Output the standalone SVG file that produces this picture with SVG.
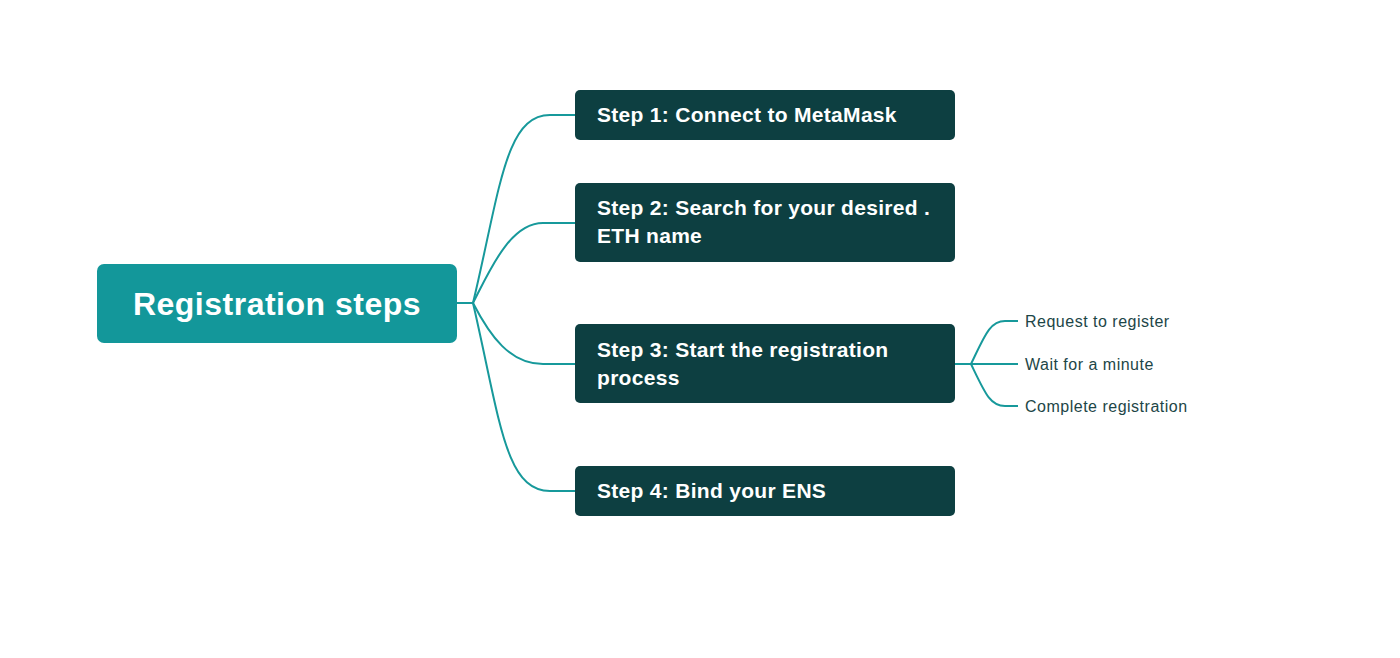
<svg xmlns="http://www.w3.org/2000/svg" width="1400" height="658" viewBox="0 0 1400 658">
<style>
.conn{fill:none;stroke:#17999B;stroke-width:2}
.root{fill:#13979A}
.step{fill:#0D3F41}
.rt{font-family:"Liberation Sans",Arial,sans-serif;font-weight:bold;font-size:32px;fill:#fff;letter-spacing:0.5px}
.st{font-family:"Liberation Sans",Arial,sans-serif;font-weight:bold;font-size:21px;fill:#fff;letter-spacing:0.3px}
.sub{font-family:"Liberation Sans",Arial,sans-serif;font-size:16px;fill:#1D4647;letter-spacing:0.5px}
</style>
<rect width="1400" height="658" fill="#fff"/>
<g id="connectors">
<path class="conn" d="M457,303 H473"/>
<path class="conn" d="M473,303 C500,190 505,115 550,115 H575"/>
<path class="conn" d="M473,303 C490,270 510,223 543,223 H575"/>
<path class="conn" d="M473,303 C490,336 510,364 543,364 H575"/>
<path class="conn" d="M473,303 C500,420 505,491 550,491 H575"/>
<path class="conn" d="M955,364 H1018"/>
<path class="conn" d="M971,364 C985,335 990,321 1005,321 H1018"/>
<path class="conn" d="M971,364 C985,393 990,406 1005,406 H1018"/>
</g>
<g id="root">
<rect class="root" x="97" y="264" width="360" height="79" rx="7"/>
<text class="rt" x="277" y="315" text-anchor="middle">Registration steps</text>
</g>
<g id="step1">
<rect class="step" x="575" y="90" width="380" height="50" rx="5"/>
<text class="st" x="597" y="122">Step 1: Connect to MetaMask</text>
</g>
<g id="step2">
<rect class="step" x="575" y="183" width="380" height="79" rx="5"/>
<text class="st" x="597" y="215">Step 2: Search for your desired .</text>
<text class="st" x="597" y="243">ETH name</text>
</g>
<g id="step3">
<rect class="step" x="575" y="324" width="380" height="79" rx="5"/>
<text class="st" x="597" y="357">Step 3: Start the registration</text>
<text class="st" x="597" y="385">process</text>
</g>
<g id="step4">
<rect class="step" x="575" y="466" width="380" height="50" rx="5"/>
<text class="st" x="597" y="498">Step 4: Bind your ENS</text>
</g>
<g id="sub1"><text class="sub" x="1025" y="327">Request to register</text></g>
<g id="sub2"><text class="sub" x="1025" y="370">Wait for a minute</text></g>
<g id="sub3"><text class="sub" x="1025" y="412">Complete registration</text></g>
</svg>
